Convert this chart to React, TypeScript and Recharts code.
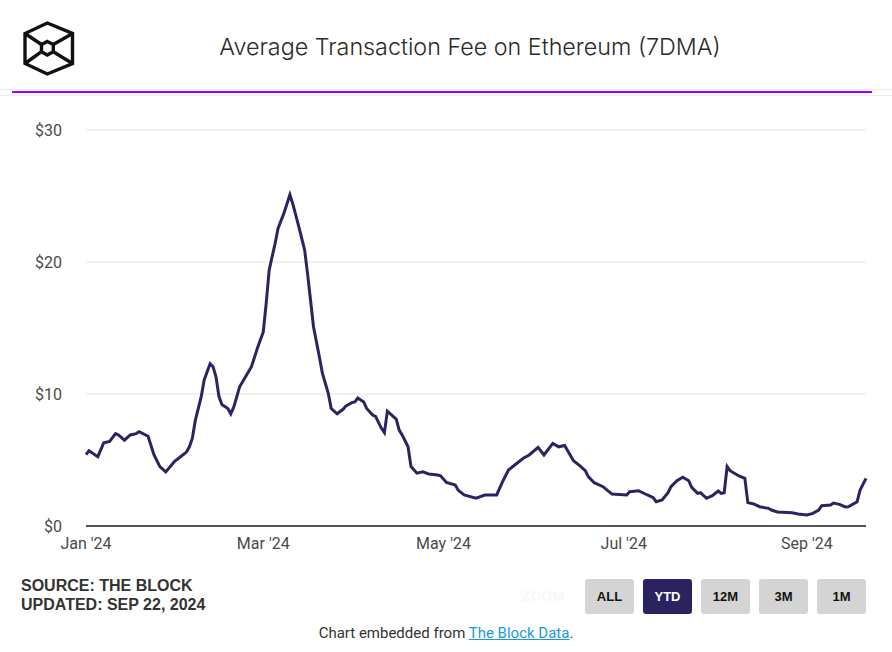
import { LineChart, Line, XAxis, YAxis, CartesianGrid } from 'recharts';

// days since 2024-01-01
const dayOffsets = [
  0, 1, 4, 6, 8, 10, 11, 13, 15, 17, 18, 21, 23, 25, 27, 30, 32, 34, 35, 36,
  37, 39, 40, 42, 43, 44, 45, 46, 48, 49, 50, 52, 54, 56, 58, 60, 61, 62, 64, 65,
  67, 69, 70, 72, 74, 75, 76, 77, 79, 80, 82, 83, 85, 87, 88, 90, 91, 92, 94, 95,
  97, 98, 100, 101, 102, 103, 105, 106, 107, 109, 110, 112, 114, 116, 119, 120, 122, 125, 126, 128,
  132, 135, 139, 141, 143, 145, 148, 150, 153, 155, 158, 160, 162, 165, 167, 169, 170, 172, 175, 178,
  183, 184, 187, 190, 192, 193, 195, 197, 198, 200, 202, 204, 205, 207, 208, 210, 212, 214, 215, 216,
  217, 218, 221, 223, 224, 226, 228, 231, 232, 234, 239, 241, 244, 246, 248, 249, 252, 253, 255, 257,
  258, 261, 262, 264,
];

// average fee in USD (7-day moving average)
const fees = [
  5.4, 5.7, 5.25, 6.3, 6.4, 7.0, 6.9, 6.5, 6.9, 7.0, 7.15, 6.8, 5.4, 4.5, 4.1, 4.9, 5.25, 5.6, 6.0, 6.65,
  8.0, 9.8, 11.06, 12.3, 12.07, 11.3, 9.8, 9.2, 8.9, 8.5, 9.0, 10.55, 11.3, 12.07, 13.46, 14.7, 16.9, 19.4, 21.4, 22.55,
  23.7, 25.1, 24.4, 22.7, 20.9, 19.1, 17.1, 15.1, 12.8, 11.57, 10.05, 8.9, 8.5, 8.84, 9.1, 9.35, 9.4, 9.7, 9.4, 8.9,
  8.4, 8.3, 7.4, 7.07, 8.7, 8.5, 8.1, 7.27, 6.9, 6.0, 4.5, 4.0, 4.1, 3.94, 3.86, 3.8, 3.3, 3.1, 2.7, 2.35,
  2.1, 2.35, 2.35, 3.36, 4.24, 4.6, 5.13, 5.38, 5.96, 5.38, 6.26, 6.0, 6.1, 4.95, 4.6, 4.2, 3.74, 3.28, 2.98, 2.42,
  2.35, 2.6, 2.67, 2.35, 2.15, 1.84, 1.97, 2.52, 2.98, 3.43, 3.69, 3.43, 2.93, 2.47, 2.52, 2.1, 2.3, 2.65, 2.47, 2.52,
  4.5, 4.19, 3.79, 3.61, 1.77, 1.67, 1.46, 1.34, 1.21, 1.06, 1.01, 0.91, 0.83, 0.96, 1.21, 1.54, 1.59, 1.74, 1.64, 1.44,
  1.46, 1.84, 2.73, 3.61,
];

const xTickDays = [0, 60, 121, 182, 244];
const xTickLabels = ["Jan '24", "Mar '24", "May '24", "Jul '24", "Sep '24"];
const yTicks = [0, 10, 20, 30];
const zoomButtons = ['ALL', 'YTD', '12M', '3M', '1M'];
const activeButton = 'YTD';

const DAY = 86400000;
const START = Date.UTC(2024, 0, 1);
const END_DAY = 264;

const data = dayOffsets.map((d, i) => ({ t: START + d * DAY, fee: fees[i] }));
const xTicks = xTickDays.map((d) => START + d * DAY);

const Logo = () => (
  <svg width={100} height={90} style={{ position: 'absolute', left: 0, top: 0 }}>
    <g fill="none" stroke="#111" strokeWidth={3.4} strokeLinejoin="miter">
      <polygon points="47.3,23 72.5,33.5 72.5,63.5 47.3,74 25,63.5 25,33.5" />
      <polygon points="47.3,41.5 53.3,44.5 53.3,51.7 47.3,55 41.5,51.7 41.5,44.5" />
      <line x1={25} y1={33.5} x2={41.5} y2={44.5} />
      <line x1={72.5} y1={33.5} x2={53.3} y2={44.5} />
      <line x1={25} y1={63.5} x2={41.5} y2={51.7} />
      <line x1={72.5} y1={63.5} x2={53.3} y2={51.7} />
    </g>
  </svg>
);

export default function App() {
  return (
    <div style={{ position: 'absolute', left: 0, top: 0, width: 892, height: 652, background: '#fff', fontFamily: 'Inter, Roboto, sans-serif', overflow: 'hidden' }}>
      <Logo />
      <div style={{ position: 'absolute', left: 0, width: 940, top: 32, textAlign: 'center', fontSize: 23.3, fontWeight: 300, color: '#2a2a2a' }}>
        Average Transaction Fee on Ethereum (7DMA)
      </div>
      <div style={{ position: 'absolute', left: 0, width: 892, top: 89, height: 1, background: '#e6e6e6' }} />
      <div style={{ position: 'absolute', left: 12, width: 860, top: 91, height: 2, background: '#a100ff' }} />
      <div style={{ position: 'absolute', left: 0, width: 892, top: 95, height: 1, background: '#ececec' }} />

      <div style={{ position: 'absolute', left: 0, top: 110 }}>
        <LineChart width={892} height={460} data={data} margin={{ top: 20, right: 26, bottom: 14, left: 16 }}>
          <CartesianGrid vertical={false} stroke="#ececec" strokeWidth={1.5} />
          <XAxis
            dataKey="t"
            type="number"
            scale="time"
            domain={[START, START + END_DAY * DAY]}
            ticks={xTicks}
            tickFormatter={(v: number) => xTickLabels[xTicks.indexOf(v)] ?? ''}
            height={30}
            tickLine={false}
            tickSize={0}
            tickMargin={12}
            stroke="#555"
            strokeWidth={2}
            tick={{ fill: '#4a4a4a', fontSize: 16, fontFamily: 'Roboto, sans-serif' }}
          />
          <YAxis
            type="number"
            domain={[0, 30]}
            ticks={yTicks}
            tickFormatter={(v: number) => `$${v}`}
            width={70}
            axisLine={false}
            tickLine={false}
            tickSize={0}
            tickMargin={24}
            tick={{ fill: '#4a4a4a', fontSize: 16, fontFamily: 'Roboto, sans-serif' }}
          />
          <Line type="linear" dataKey="fee" stroke="#2b2461" strokeWidth={3} dot={false} isAnimationActive={false} />
        </LineChart>
      </div>

      <div style={{ position: 'absolute', left: 21, top: 576, fontFamily: '"Liberation Sans", Arial, sans-serif', fontWeight: 700, fontSize: 16, lineHeight: '19px', color: '#333' }}>
        <div>SOURCE: THE BLOCK</div>
        <div>UPDATED: SEP 22, 2024</div>
      </div>

      <div style={{ position: 'absolute', left: 522, top: 588, fontFamily: '"Liberation Sans", Arial, sans-serif', fontWeight: 700, fontSize: 14, color: '#f8f8f8' }}>ZOOM</div>
      {zoomButtons.map((b, i) => (
        <div
          key={b}
          style={{
            position: 'absolute',
            left: 585 + i * 58,
            top: 579,
            width: 49,
            height: 35,
            borderRadius: 3,
            background: b === activeButton ? '#2b2360' : '#d4d4d4',
            color: b === activeButton ? '#fff' : '#111',
            fontFamily: '"Liberation Sans", Arial, sans-serif',
            fontWeight: 700,
            fontSize: 13,
            lineHeight: '35px',
            textAlign: 'center',
          }}
        >
          {b}
        </div>
      ))}

      <div style={{ position: 'absolute', left: 0, width: 892, top: 624, textAlign: 'center', fontFamily: 'Roboto, sans-serif', fontSize: 15, color: '#333' }}>
        Chart embedded from <span style={{ color: '#1a9bd7', textDecoration: 'underline' }}>The Block Data</span>.
      </div>
    </div>
  );
}
